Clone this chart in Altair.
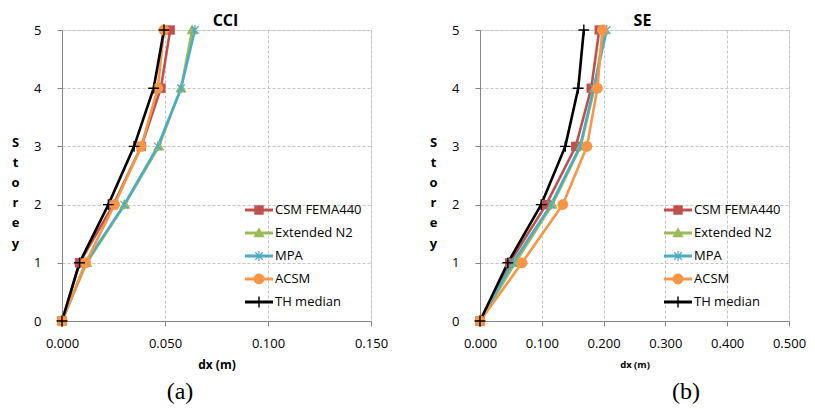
import math
import altair as alt
import pandas as pd

series = ["CSM FEMA440", "Extended N2", "MPA", "ACSM", "TH median"]
colors = ["#C0504D", "#9BBB59", "#4BACC6", "#F79646", "#000000"]
storeys = [0, 1, 2, 3, 4, 5]

# CCI panel (a)
cci_csm = [0.0, 0.0085, 0.0250, 0.0385, 0.0480, 0.0525]
cci_n2 = [0.0, 0.0120, 0.0305, 0.0470, 0.0578, 0.0632]
cci_mpa = [0.0, 0.0115, 0.0302, 0.0465, 0.0578, 0.0645]
cci_acsm = [0.0, 0.0115, 0.0255, 0.0385, 0.0465, 0.0495]
cci_th = [0.0, 0.0085, 0.0225, 0.0350, 0.0445, 0.0495]

# SE panel (b)
se_csm = [0.0, 0.048, 0.107, 0.155, 0.180, 0.193]
se_n2 = [0.0, 0.057, 0.117, 0.163, 0.185, 0.201]
se_mpa = [0.0, 0.053, 0.115, 0.162, 0.184, 0.205]
se_acsm = [0.0, 0.068, 0.134, 0.173, 0.190, 0.198]
se_th = [0.0, 0.045, 0.099, 0.138, 0.159, 0.168]

cci_ticks = [0.0, 0.05, 0.1, 0.15]
se_ticks = [0.0, 0.1, 0.2, 0.3, 0.4, 0.5]
titles = ["CCI", "SE"]
captions = ["(a)", "(b)"]

FONT = "Open Sans"
PW, PH = 309, 291

# ---------- marker shapes (unit coordinates) ----------
def poly(pts, k=1.0):
    return "M" + "L".join(f"{x * k:.3f},{y * k:.3f}" for x, y in pts) + "Z"

def circ(r):
    return f"M{r:.3f},0A{r:.3f},{r:.3f},0,1,1,{-r:.3f},0A{r:.3f},{r:.3f},0,1,1,{r:.3f},0Z"

t = 0.13
d = t / math.sqrt(2)
a = 0.8
shape_polys = {
    "square": [[(-1, -1), (1, -1), (1, 1), (-1, 1)]],
    "triangle": [[(0, -1.2), (1.2, 0.9), (-1.2, 0.9)]],
    "star": [
        [(-t, -1.05), (t, -1.05), (t, 1.05), (-t, 1.05)],
        [(-a + d, -a - d), (a + d, a - d), (a - d, a + d), (-a - d, -a + d)],
        [(-a + d, a + d), (-a - d, a - d), (a - d, -a - d), (a + d, -a + d)],
    ],
    "plus": [
        [(-1.15, -0.15), (1.15, -0.15), (1.15, 0.15), (-1.15, 0.15)],
        [(-0.15, -1.15), (0.15, -1.15), (0.15, 1.15), (-0.15, 1.15)],
    ],
}
CIRCLE_R = 1.15

def marker_path(kind, k=1.0):
    if kind == "circle":
        return circ(CIRCLE_R * k)
    return "".join(poly(p, k) for p in shape_polys[kind])

kinds = ["square", "triangle", "star", "circle", "plus"]
plot_shapes = [marker_path(kd) for kd in kinds]

LEG_SIZE = 196  # half-size 7px per unit
leg_k = 4.7 / 7.0
leg_line = poly([(-2, -0.2), (2, -0.2), (2, 0.2), (-2, 0.2)])
legend_shapes = [leg_line + marker_path(kd, leg_k) for kd in kinds]


def long_df(lists):
    rows = []
    for s, vals in zip(series, lists):
        for st, v in zip(storeys, vals):
            rows.append({"series": s, "storey": st, "dx": v})
    return pd.DataFrame(rows)


def panel(df, title, xmax, xticks, caption, cap_x, leg_x, xtitle_size, title_dx):
    grid = dict(grid=True, gridDash=[3, 2], gridColor="#c4c4c4", gridWidth=1,
                domainColor="#868686", tickColor="#868686", tickSize=5,
                labelFont=FONT, labelFontSize=13, labelColor="#000000",
                labelFlush=False)
    x = alt.X("dx:Q", scale=alt.Scale(domain=[0, xmax], nice=False, zero=True),
              axis=alt.Axis(values=xticks, format=".3f", title="dx (m)",
                            titleFont=FONT, titleFontSize=xtitle_size, titleFontWeight="bold",
                            titleColor="#000000", labelPadding=11, titlePadding=9, **grid))
    y = alt.Y("storey:Q", scale=alt.Scale(domain=[0, 5], nice=False),
              axis=alt.Axis(values=storeys, format="d", title=list("Storey"),
                            titleAngle=0, titleFont=FONT, titleFontSize=13,
                            titleFontWeight="bold", titleColor="#000000",
                            titleLineHeight=20.2, titleX=-47, titleY=112,
                            titleBaseline="middle", titleAlign="center",
                            labelPadding=16, **grid))
    cscale = alt.Scale(domain=series, range=colors)
    base = alt.Chart(df)
    lines = base.mark_line(strokeWidth=2.6).encode(
        x=x, y=y, order="storey:Q",
        color=alt.Color("series:N", scale=cscale, legend=None))
    pts = base.mark_point(filled=True, opacity=1, size=88, strokeWidth=0).encode(
        x=x, y=y,
        color=alt.Color("series:N", scale=cscale, legend=None),
        shape=alt.Shape("series:N", scale=alt.Scale(domain=series, range=plot_shapes), legend=None))
    leg = alt.Legend(orient="none", legendX=leg_x, legendY=173, title=None,
                     labelFont=FONT, labelFontSize=13, labelColor="#000000",
                     symbolSize=LEG_SIZE, symbolStrokeWidth=0, symbolOpacity=1,
                     labelOffset=9, rowPadding=9, padding=0, labelLimit=200)
    carrier = base.mark_point(filled=True, opacity=1, size=LEG_SIZE).encode(
        x=x, y=y,
        color=alt.Color("series:N", scale=cscale, legend=leg),
        shape=alt.Shape("series:N", scale=alt.Scale(domain=series, range=legend_shapes), legend=leg),
    ).transform_filter("false")
    cap = alt.Chart(pd.DataFrame({"caption": [caption]})).mark_text(
        font="Liberation Serif", fontSize=24, color="#000000", baseline="middle", align="center"
    ).encode(x=alt.value(cap_x), y=alt.value(362), text="caption:N")
    return alt.layer(lines, pts, carrier, cap).resolve_scale(
        color="independent", shape="independent"
    ).properties(
        width=PW, height=PH,
        title=alt.TitleParams(title, font=FONT, fontSize=16, fontWeight="bold",
                              color="#000000", offset=-5, dx=title_dx),
    )


left = panel(long_df([cci_csm, cci_n2, cci_mpa, cci_acsm, cci_th]), titles[0], 0.15,
             cci_ticks, captions[0], 118, 190, 12, 9)
right = panel(long_df([se_csm, se_n2, se_mpa, se_acsm, se_th]), titles[1], 0.5,
              se_ticks, captions[1], 206, 191, 9.5, 8)

chart = alt.hconcat(left, right, spacing=39).configure_view(stroke=None).configure(
    background="#ffffff").properties(padding={"left": 2, "top": 4, "right": 0, "bottom": 0})

chart.save("out.html", embed_options={"renderer": "svg", "actions": False})
